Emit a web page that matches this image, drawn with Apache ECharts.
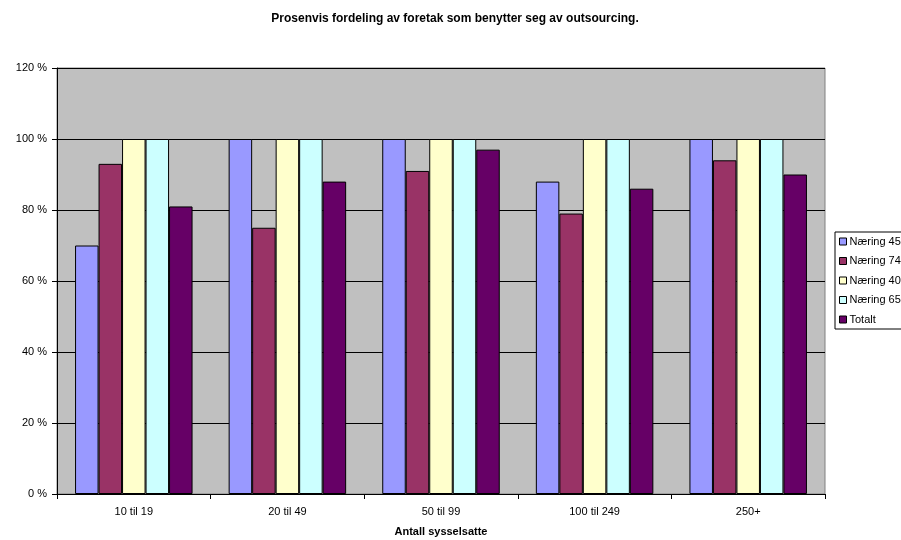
<!DOCTYPE html>
<html><head><meta charset="utf-8">
<script src="https://cdn.jsdelivr.net/npm/echarts@6/dist/echarts.min.js"></script>
<style>html,body{margin:0;padding:0;background:#fff}#c{width:901px;height:540px}</style>
</head><body><div id="c"></div>
<script>
const categories = ['10 til 19', '20 til 49', '50 til 99', '100 til 249', '250+'];
const seriesNames = ['Næring 45', 'Næring 74', 'Næring 40', 'Næring 65', 'Totalt'];
const naering45 = [70, 100, 100, 88, 100];
const naering74 = [93, 75, 91, 79, 94];
const naering40 = [100, 100, 100, 100, 100];
const naering65 = [100, 100, 100, 100, 100];
const totalt = [81, 88, 97, 86, 90];
const yTicks = [0, 20, 40, 60, 80, 100, 120];
const colors = ['#9999FF', '#993366', '#FFFFCC', '#CCFFFF', '#660066'];
const allValues = [naering45, naering74, naering40, naering65, totalt];
const font = 'Liberation Sans, Arial, sans-serif';

const chart = echarts.init(document.getElementById('c'), null, {renderer: 'canvas'});
chart.setOption({
  animation: false,
  color: colors,
  title: {
    text: 'Prosenvis fordeling av foretak som benytter seg av outsourcing.',
    left: 450, top: 8, textAlign: 'center',
    textStyle: {fontFamily: font, fontSize: 12, fontWeight: 'bold', color: '#000'}
  },
  legend: {
    orient: 'vertical', left: 835, top: 232,
    data: seriesNames,
    itemWidth: 7, itemHeight: 7, itemGap: 8.5,
    borderColor: '#000', borderWidth: 1, padding: [4, 20, 4, 4],
    backgroundColor: '#fff',
    icon: 'rect',
    textStyle: {fontFamily: font, fontSize: 11, color: '#000', padding: [0, 0, 0, -2]},
    itemStyle: {borderColor: '#000', borderWidth: 1}
  },
  grid: {
    left: 57, right: 76, top: 68, bottom: 46,
    outerBoundsMode: 'none', containLabel: false,
    show: true, backgroundColor: '#C0C0C0', borderColor: '#808080', borderWidth: 1
  },
  xAxis: {
    type: 'category', data: categories,
    name: 'Antall sysselsatte', nameLocation: 'middle', nameGap: 32,
    nameTextStyle: {fontFamily: font, fontSize: 11, fontWeight: 'bold', color: '#000'},
    axisLine: {lineStyle: {color: '#000', width: 1}},
    axisTick: {show: true, length: 5, lineStyle: {color: '#000'}},
    axisLabel: {fontFamily: font, fontSize: 11, color: '#000', margin: 12}
  },
  yAxis: {
    type: 'value', min: yTicks[0], max: yTicks[yTicks.length - 1], interval: 20,
    axisLine: {show: true, lineStyle: {color: '#000', width: 1}},
    axisTick: {show: true, length: 5, lineStyle: {color: '#000'}},
    axisLabel: {fontFamily: font, fontSize: 11, color: '#000', margin: 10, formatter: v => v + ' %'},
    splitLine: {show: true, lineStyle: {color: '#000', width: 1}}
  },
  series: seriesNames.map((n, i) => ({
    name: n, type: 'bar', data: allValues[i],
    barGap: '0%', barCategoryGap: '23.5%',
    itemStyle: {color: colors[i], borderColor: '#000', borderWidth: 1}
  }))
});
</script></body></html>
